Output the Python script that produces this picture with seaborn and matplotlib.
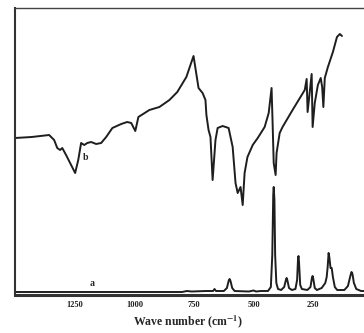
import pandas as pd
import matplotlib
matplotlib.use('Agg')
import matplotlib.pyplot as plt
import seaborn as sns

# spectrum b (upper trace), wavenumber vs. relative intensity
wn_b = [1500, 1430, 1357, 1336, 1323, 1311, 1302, 1286, 1248, 1235, 1223, 1210,
        1197, 1181, 1160, 1139, 1118, 1092, 1055, 1030, 1013, 996, 983, 937, 895,
        853, 820, 782, 752, 731, 714, 702, 698, 689, 681, 672, 660, 651, 630, 605,
        588, 576, 567, 555, 546, 538, 526, 504, 483, 454, 437, 425, 421, 416, 408,
        404, 391, 379, 337, 286, 278, 274, 257, 253, 244, 231, 219, 213, 208, 202,
        189, 168, 151, 139, 130]
int_b = [157, 158, 160, 155, 147, 145, 147, 140, 122, 135, 152, 150,
         152, 153, 151, 152, 158, 167, 171, 173, 172, 164, 178, 185, 188,
         195, 203, 218, 239, 207, 202, 195, 180, 165, 158, 115, 155, 167, 169, 167,
         148, 112, 102, 108, 90, 122, 138, 150, 157, 168, 182, 207, 175, 132, 120,
         142, 162, 168, 185, 205, 216, 183, 221, 168, 192, 210, 217, 208, 188, 217,
         228, 243, 258, 261, 259]

# spectrum a (lower trace)
wn_a = [1500, 800, 780, 760, 700, 670, 664, 658, 625, 612, 605, 601, 597, 590,
        580, 520, 500, 490, 470, 440, 428, 422, 418, 416, 413, 410, 405, 398,
        385, 372, 365, 362, 359, 352, 340, 325, 318, 314, 312, 310, 305, 298,
        275, 262, 256, 253, 250, 244, 235, 215, 200, 194, 190, 186, 183, 178,
        173, 168, 160, 150, 120, 105, 95, 90, 86, 80, 70, 50, 38]
int_a = [3, 3, 4, 3.5, 4, 4, 6, 4, 4, 7, 14, 16, 14, 7,
         4, 3.5, 4.5, 3.5, 4, 4, 8, 40, 100, 108, 95, 40, 12, 6,
         5, 8, 15, 17, 15, 7, 5, 6, 15, 37, 39, 33, 10, 6,
         5, 8, 17, 19, 16, 7, 5, 7, 12, 18, 28, 42, 38, 27,
         27, 18, 8, 5, 5, 9, 19, 23, 21, 12, 6, 4, 4]

ticks = [1250, 1000, 750, 500, 250]

sns.set_style('white')
plt.rcParams['font.family'] = ['Liberation Serif', 'DejaVu Serif']
plt.rcParams['mathtext.fontset'] = 'stix'

fig = plt.figure(figsize=(3.64, 3.33), dpi=100)
ax = fig.add_axes([15 / 364, 38 / 333, 358 / 364, 287 / 333])

df_b = pd.DataFrame({'wn': wn_b, 'I': int_b})
df_a = pd.DataFrame({'wn': wn_a, 'I': int_a})
sns.lineplot(data=df_b, x='wn', y='I', ax=ax, color='#1e1e1e', lw=1.4, estimator=None)
sns.lineplot(data=df_a, x='wn', y='I', ax=ax, color='#1e1e1e', lw=1.4, estimator=None)

ax.set_xlim(1500, 0)
ax.set_ylim(0, 287)
ax.set_xticks(ticks)
ax.set_xticklabels([str(t) for t in ticks], fontsize=6, fontweight='bold')
ax.set_yticks([])
ax.set_ylabel('')
ax.set_xlabel(r'Wave number (cm$^{\mathbf{-1}}$)', fontsize=8.5, fontweight='bold')
ax.xaxis.set_label_coords(0.483, -0.065)
ax.tick_params(axis='x', direction='out', length=2, width=1, pad=2, colors='#333333')
for lbl in ax.get_xticklabels():
    lbl.set_color('#222222')

ax.spines['right'].set_visible(False)
ax.spines['top'].set_linewidth(1.0)
ax.spines['top'].set_color('#444444')
ax.spines['left'].set_linewidth(1.5)
ax.spines['left'].set_color('#333333')
ax.spines['bottom'].set_linewidth(2.2)
ax.spines['bottom'].set_color('#333333')

ax.text(1206, 138, 'b', fontsize=7, fontweight='bold', ha='center', va='center', color='#222222')
ax.text(1177, 12, 'a', fontsize=7, fontweight='bold', ha='center', va='center', color='#222222')

fig.savefig('out.png', dpi=100)
